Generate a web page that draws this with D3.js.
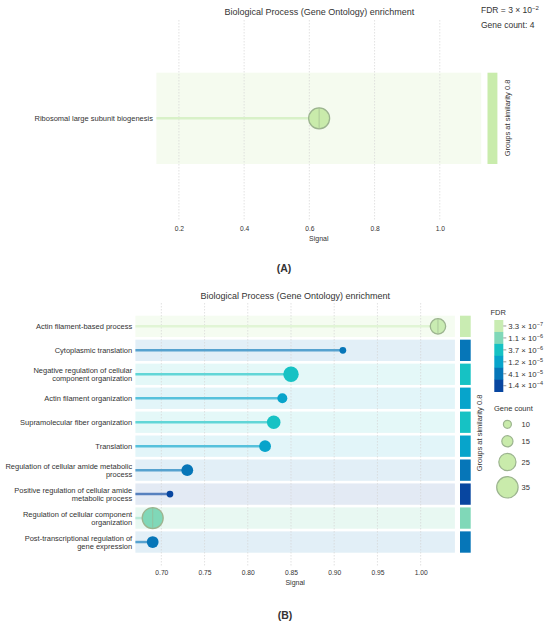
<!DOCTYPE html>
<html>
<head>
<meta charset="utf-8">
<script src="https://cdn.jsdelivr.net/npm/d3@7"></script>
<style>
html,body{margin:0;padding:0;background:#fff;}
svg{display:block;}
text{font-family:"Liberation Sans",Arial,sans-serif;fill:#333;}
</style>
</head>
<body>
<svg id="chart" width="550" height="627"></svg>
<script>
// ---------- DATA ----------
const titleText = "Biological Process (Gene Ontology) enrichment";

// Panel A
const termsA = ["Ribosomal large subunit biogenesis"];
const signalA = [0.63];
const countA = [4];
const fdrA = ["3", "−2"];
const ticksA = [0.2, 0.4, 0.6, 0.8, 1.0];

// Panel B
const termsB = [
  "Actin filament-based process",
  "Cytoplasmic translation",
  "Negative regulation of cellular|component organization",
  "Actin filament organization",
  "Supramolecular fiber organization",
  "Translation",
  "Regulation of cellular amide metabolic|process",
  "Positive regulation of cellular amide|metabolic process",
  "Regulation of cellular component|organization",
  "Post-transcriptional regulation of|gene expression"
];
const signalB = [1.02, 0.91, 0.85, 0.84, 0.83, 0.82, 0.73, 0.71, 0.69, 0.69];
const countB = [22, 8, 22, 13, 19, 16, 16, 8, 34, 16];
const fdrB = ["3.3e-7", "4.1e-5", "3.7e-6", "1.2e-5", "3.7e-6", "1.2e-5", "4.1e-5", "1.4e-4", "1.1e-6", "4.1e-5"];
const ticksB = [0.70, 0.75, 0.80, 0.85, 0.90, 0.95, 1.00];

// Legend
const fdrLevels = ["3.3e-7", "1.1e-6", "3.7e-6", "1.2e-5", "4.1e-5", "1.4e-4"];
const fdrMant = ["3.3", "1.1", "3.7", "1.2", "4.1", "1.4"];
const fdrExp = ["−7", "−6", "−6", "−5", "−5", "−4"];
const fdrColors = ["#c9ecb2", "#80d8b8", "#16c2c4", "#07a4cb", "#0676b8", "#0846a0"];
const legendCounts = [10, 15, 25, 35];
const legendRadii = [4, 5.6, 8.6, 10.7];

// ---------- DRAW ----------
const svg = d3.select("#chart");
svg.append("rect").attr("width", 550).attr("height", 627).attr("fill", "#fff");

const color = d3.scaleOrdinal().domain(fdrLevels).range(fdrColors);
const rScale = d3.scaleLinear().domain(legendCounts).range(legendRadii);
const lightStroke = "#9cb48f";
const isLight = f => f === "3.3e-7" || f === "1.1e-6";
const tint = (c, t) => d3.interpolateRgb(c, "#fff")(t);

function gridlines(g, x, ticks, y0, y1) {
  g.selectAll(null).data(ticks).join("line")
    .attr("x1", d => x(d)).attr("x2", d => x(d))
    .attr("y1", y0).attr("y2", y1)
    .attr("stroke", "#d6d6d6").attr("stroke-width", 0.7)
    .attr("stroke-dasharray", "1.5,1.5");
}

function bottomAxis(g, x, ticks, fmt, yTick, ySignal) {
  const ax = d3.axisBottom(x).tickValues(ticks).tickFormat(d3.format(fmt)).tickSize(0).tickPadding(0);
  const a = g.append("g").attr("transform", `translate(0,${yTick})`).call(ax);
  a.select(".domain").remove();
  a.selectAll("text").attr("dy", "0.35em").attr("font-size", 6.7)
    .attr("font-family", '"Liberation Sans",Arial,sans-serif').attr("fill", "#444");
  g.append("text").attr("x", (x.range()[0] + x.range()[1]) / 2).attr("y", ySignal)
    .attr("dy", "0.35em").attr("text-anchor", "middle").attr("font-size", 7).attr("fill", "#444")
    .text("Signal");
}

function drawPoint(g, cx, cy, r, fill, light) {
  g.append("circle").attr("cx", cx).attr("cy", cy).attr("r", r)
    .attr("fill", fill)
    .attr("stroke", light ? lightStroke : "none").attr("stroke-width", 1.3);
  if (light) {
    g.append("line").attr("x1", cx).attr("x2", cx).attr("y1", cy - r).attr("y2", cy + r)
      .attr("stroke", lightStroke).attr("stroke-width", 0.6);
  }
}

// ===== Panel A =====
const gA = svg.append("g");
const xA = d3.scaleLinear().domain([0.131, 1.127]).range([156.4, 481.2]);
const yA = d3.scaleBand().domain(termsA).range([72.7, 164]);
const rA = d3.scaleSqrt().domain([0, 4]).range([0, 10.5]);

gA.append("text").attr("x", 319.4).attr("y", 11.7).attr("dy", "0.35em")
  .attr("text-anchor", "middle").attr("font-size", 9).attr("fill", "#333").text(titleText);

termsA.forEach((t, i) => {
  const y0 = yA(t), bw = yA.bandwidth();
  gA.append("rect").attr("x", xA.range()[0]).attr("y", y0)
    .attr("width", xA.range()[1] - xA.range()[0]).attr("height", bw)
    .attr("fill", "#f5fbef");
  gA.append("rect").attr("x", 487.5).attr("y", y0).attr("width", 9.9).attr("height", bw)
    .attr("fill", "#c9ecac");
});
gridlines(gA, xA, ticksA, 20, 221);
termsA.forEach((t, i) => {
  const cy = yA(t) + yA.bandwidth() / 2;
  gA.append("line").attr("x1", xA.range()[0]).attr("x2", xA(signalA[i]))
    .attr("y1", cy).attr("y2", cy).attr("stroke", "#d8f1c8").attr("stroke-width", 2.5);
  drawPoint(gA, xA(signalA[i]), cy, rA(countA[i]), "#c9ebab", true);
  gA.append("text").attr("x", 152.9).attr("y", cy).attr("dy", "0.35em")
    .attr("text-anchor", "end").attr("font-size", 7.5).attr("fill", "#333").text(t);
});
gA.append("text").attr("transform", `translate(507.5,118) rotate(-90)`)
  .attr("dy", "0.35em").attr("text-anchor", "middle").attr("font-size", 7.5).attr("fill", "#333")
  .text("Groups at similarity 0.8");
bottomAxis(gA, xA, ticksA, ".1f", 228.3, 238.5);

const fA = gA.append("text").attr("x", 481).attr("y", 10.3).attr("dy", "0.35em")
  .attr("font-family", "Lato,'Open Sans',sans-serif").attr("font-size", 8.5).attr("fill", "#444");
fA.append("tspan").text("FDR = " + fdrA[0] + " × 10");
fA.append("tspan").attr("dy", -3).attr("font-size", 6).text(fdrA[1]);
gA.append("text").attr("x", 481).attr("y", 25).attr("dy", "0.35em")
  .attr("font-family", "Lato,'Open Sans',sans-serif").attr("font-size", 8.5).attr("fill", "#444")
  .text("Gene count: " + countA[0]);

svg.append("text").attr("x", 284).attr("y", 268).attr("dy", "0.35em").attr("text-anchor", "middle")
  .attr("font-family", '"Liberation Serif","Times New Roman",serif').attr("font-weight", "bold")
  .attr("font-size", 10.5).attr("fill", "#222").text("(A)");

// ===== Panel B =====
const gB = svg.append("g");
const xB = d3.scaleLinear().domain([0.670, 1.0396]).range([135.4, 454.9]);
const yB = d3.scaleBand().domain(termsB).range([315.7, 552.7]).paddingInner(0.11).paddingOuter(0);

gB.append("text").attr("x", 295.3).attr("y", 295.5).attr("dy", "0.35em")
  .attr("text-anchor", "middle").attr("font-size", 9).attr("fill", "#333").text(titleText);

termsB.forEach((t, i) => {
  const y0 = yB(t), bw = yB.bandwidth();
  const c = color(fdrB[i]);
  gB.append("rect").attr("x", xB.range()[0]).attr("y", y0)
    .attr("width", xB.range()[1] - xB.range()[0]).attr("height", bw)
    .attr("fill", tint(c, isLight(fdrB[i]) ? 0.82 : 0.885));
  gB.append("rect").attr("x", 460).attr("y", y0).attr("width", 10.7).attr("height", bw)
    .attr("fill", c);
});
gridlines(gB, xB, ticksB, 303, 566);
termsB.forEach((t, i) => {
  const cy = yB(t) + yB.bandwidth() / 2;
  const c = color(fdrB[i]);
  gB.append("line").attr("x1", xB.range()[0]).attr("x2", xB(signalB[i]))
    .attr("y1", cy).attr("y2", cy).attr("stroke", tint(c, isLight(fdrB[i]) ? 0.45 : 0.32)).attr("stroke-width", 2.5);
  drawPoint(gB, xB(signalB[i]), cy, rScale(countB[i]), c, isLight(fdrB[i]));
  const lines = t.split("|");
  lines.forEach((ln, j) => {
    gB.append("text").attr("x", 132.2).attr("y", cy + (j - (lines.length - 1) / 2) * 8.2)
      .attr("dy", "0.35em").attr("text-anchor", "end").attr("font-size", 7.5).attr("fill", "#333").text(ln);
  });
});
gB.append("text").attr("transform", `translate(479.8,433) rotate(-90)`)
  .attr("dy", "0.35em").attr("text-anchor", "middle").attr("font-size", 7.5).attr("fill", "#333")
  .text("Groups at similarity 0.8");
bottomAxis(gB, xB, ticksB, ".2f", 572.5, 582.5);

// FDR legend
gB.append("text").attr("x", 490.5).attr("y", 312.3).attr("dy", "0.35em")
  .attr("font-size", 7.5).attr("fill", "#333").text("FDR");
const yLeg = d3.scaleBand().domain(fdrLevels).range([320, 391.7]);
fdrLevels.forEach((f, i) => {
  gB.append("rect").attr("x", 494.3).attr("y", yLeg(f)).attr("width", 9).attr("height", yLeg.bandwidth() + 0.3)
    .attr("fill", color(f));
  const cy = yLeg(f) + yLeg.bandwidth() / 2;
  gB.append("line").attr("x1", 503.3).attr("x2", 506.3).attr("y1", cy).attr("y2", cy)
    .attr("stroke", "#555").attr("stroke-width", 0.6);
  const tx = gB.append("text").attr("x", 508.3).attr("y", cy).attr("dy", "0.35em")
    .attr("font-family", '"Liberation Serif","Times New Roman",serif').attr("font-size", 7.8).attr("fill", "#333");
  tx.append("tspan").text(fdrMant[i] + " × 10");
  tx.append("tspan").attr("dy", -3).attr("font-size", 5.5).text(fdrExp[i]);
});

// Gene count legend
gB.append("text").attr("x", 494).attr("y", 408.3).attr("dy", "0.35em")
  .attr("font-size", 7.5).attr("fill", "#333").text("Gene count");
const legY = [424.3, 441.3, 462, 487.3];
legendCounts.forEach((c, i) => {
  gB.append("circle").attr("cx", 507.4).attr("cy", legY[i]).attr("r", rScale(c))
    .attr("fill", "#c9ebab").attr("stroke", lightStroke).attr("stroke-width", 1.2);
  gB.append("text").attr("x", 521.6).attr("y", legY[i]).attr("dy", "0.35em")
    .attr("font-size", 7.5).attr("fill", "#333").text(c);
});

svg.append("text").attr("x", 285).attr("y", 615).attr("dy", "0.35em").attr("text-anchor", "middle")
  .attr("font-family", '"Liberation Serif","Times New Roman",serif').attr("font-weight", "bold")
  .attr("font-size", 10.5).attr("fill", "#222").text("(B)");
</script>
</body>
</html>
